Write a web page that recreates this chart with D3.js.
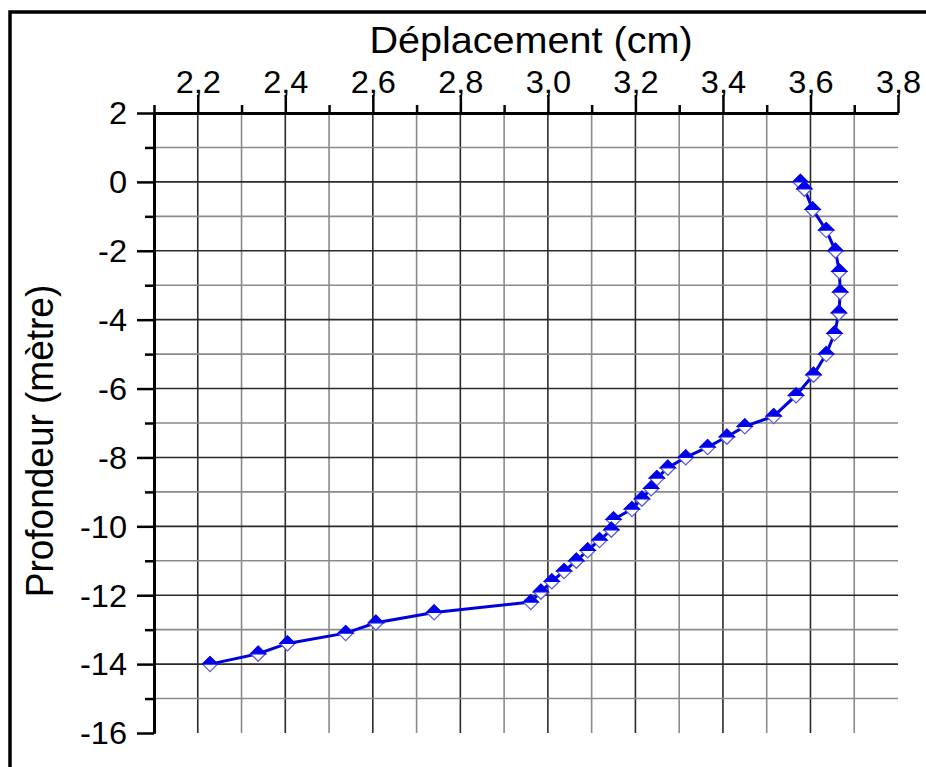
<!DOCTYPE html>
<html>
<head>
<meta charset="utf-8">
<script src="https://cdn.jsdelivr.net/npm/d3@7"></script>
<style>
  body { margin: 0; background: #fff; overflow: hidden; }
  svg { display: block; font-family: "Liberation Sans", Arial, sans-serif; }
</style>
</head>
<body>
<div id="app"></div>
<script>
// depth (m) and displacement (cm)
let depth = [0, -0.2, -0.8, -1.4, -2.0, -2.6, -3.2, -3.8, -4.4, -5.0, -5.6, -6.2, -6.8,
             -7.1, -7.4, -7.7, -8.0, -8.3, -8.6, -8.9, -9.2, -9.5, -9.8, -10.1, -10.4,
             -10.7, -11.0, -11.3, -11.6, -11.9, -12.2, -12.5, -12.8, -13.1, -13.4, -13.7, -14.0];
let displacement = [3.577, 3.586, 3.605, 3.636, 3.657, 3.666, 3.668, 3.665, 3.655, 3.636, 3.607, 3.567, 3.516,
                    3.450, 3.409, 3.365, 3.315, 3.274, 3.249, 3.236, 3.215, 3.192, 3.150, 3.145, 3.118,
                    3.091, 3.065, 3.037, 3.009, 2.984, 2.961, 2.740, 2.607, 2.538, 2.405, 2.338, 2.228];

let xMajor = [2.2, 2.4, 2.6, 2.8, 3.0, 3.2, 3.4, 3.6, 3.8];
let xMinor = [2.1, 2.3, 2.5, 2.7, 2.9, 3.1, 3.3, 3.5, 3.7];
let yMajor = [2, 0, -2, -4, -6, -8, -10, -12, -14, -16];
let yMinor = [1, -1, -3, -5, -7, -9, -11, -13, -15];

let xTitle = 'Déplacement (cm)';
let yTitle = 'Profondeur (mètre)';

let width = 926;
let height = 767;
let stretch = 1.05;   // the text in the picture is a bit wide

let x = d3.scaleLinear().domain([2.1, 3.8]).range([154, 898]);
let y = d3.scaleLinear().domain([2, -16]).range([113, 733]);

let fr = d3.formatLocale({decimal: ',', thousands: ' ', grouping: [3], currency: ['', ''], minus: '-'});

let svg = d3.select('#app').append('svg')
    .attr('width', width)
    .attr('height', height);

// outer frame: only the top and left sides are inside the picture
svg.append('path')
    .attr('d', 'M10,' + height + 'V12H' + width)
    .attr('fill', 'none')
    .attr('stroke', '#000')
    .attr('stroke-width', 3.5);

// grid
let grid = svg.append('g');
let vLines = xMajor.filter(d => d < 3.8).map(d => ({v: d, major: true}))
  .concat(xMinor.filter(d => d > 2.1).map(d => ({v: d, major: false})));
grid.selectAll('line.v')
    .data(vLines)
    .enter().append('line')
      .attr('x1', d => x(d.v)).attr('x2', d => x(d.v))
      .attr('y1', y(2)).attr('y2', y(-16))
      .attr('stroke', d => d.major ? '#2a2a2a' : '#8a8a8a')
      .attr('stroke-width', 1.6);

let hLines = yMajor.filter(d => d < 2 && d > -16).map(d => ({v: d, major: true}))
  .concat(yMinor.map(d => ({v: d, major: false})));
grid.selectAll('line.h')
    .data(hLines)
    .enter().append('line')
      .attr('x1', x(2.1)).attr('x2', x(3.8))
      .attr('y1', d => y(d.v)).attr('y2', d => y(d.v))
      .attr('stroke', d => d.major ? '#2a2a2a' : '#8a8a8a')
      .attr('stroke-width', 1.6);

// top axis
let gxMinor = svg.append('g')
    .attr('transform', 'translate(0,' + y(2) + ')')
    .call(d3.axisTop(x).tickValues(xMinor).tickSize(8).tickSizeOuter(0).tickFormat(''));
let gxMajor = svg.append('g')
    .attr('transform', 'translate(0,' + y(2) + ')')
    .call(d3.axisTop(x).tickValues(xMajor).tickSize(18).tickSizeOuter(0).tickPadding(2)
      .tickFormat(fr.format('.1f')));

// left axis
let gyMinor = svg.append('g')
    .attr('transform', 'translate(' + x(2.1) + ',0)')
    .call(d3.axisLeft(y).tickValues(yMinor).tickSize(9).tickSizeOuter(0).tickFormat(''));
let gyMajor = svg.append('g')
    .attr('transform', 'translate(' + x(2.1) + ',0)')
    .call(d3.axisLeft(y).tickValues(yMajor).tickSize(17).tickSizeOuter(0).tickPadding(10)
      .tickFormat(fr.format('d')));

[gxMinor, gxMajor, gyMinor, gyMajor].forEach(g => {
  g.select('.domain').attr('stroke', '#000').attr('stroke-width', 3);
  g.selectAll('.tick line').attr('stroke', '#000').attr('stroke-width', 2.5);
});

gxMajor.selectAll('.tick text')
    .attr('font-family', '"Liberation Sans", Arial, sans-serif')
    .attr('font-size', 31)
    .attr('fill', '#000')
    .attr('transform', 'scale(' + stretch + ',1)');

gyMajor.selectAll('.tick text')
    .attr('font-family', '"Liberation Sans", Arial, sans-serif')
    .attr('font-size', 31)
    .attr('fill', '#000')
    .attr('x', -27 / stretch)
    .attr('dy', '0.35em')
    .attr('transform', 'scale(' + stretch + ',1)');

// titles
svg.append('text')
    .attr('transform', 'translate(531,53) scale(1.07,1)')
    .attr('text-anchor', 'middle')
    .attr('font-size', 37)
    .text(xTitle);

svg.append('text')
    .attr('transform', 'translate(53,441) scale(1.07,1) rotate(-90)')
    .attr('text-anchor', 'middle')
    .attr('font-size', 37)
    .text(yTitle);

// curve
let line = d3.line()
    .x((d, i) => x(displacement[i]))
    .y(d => y(d));

svg.append('path')
    .datum(depth)
    .attr('d', line)
    .attr('fill', 'none')
    .attr('stroke', '#0000dd')
    .attr('stroke-width', 3);

// half filled diamonds
let r = 7.5;
let marks = svg.selectAll('g.mark')
    .data(depth)
    .enter().append('g')
      .attr('transform', (d, i) => 'translate(' + x(displacement[i]) + ',' + y(d) + ')');

marks.append('path')
    .attr('d', `M0,${-r}L${r},0L0,${r}L${-r},0Z`)
    .attr('fill', '#fff')
    .attr('stroke', '#5b5bd6')
    .attr('stroke-width', 1.3);

marks.append('path')
    .attr('d', `M0,${-r}L${r},0L${-r},0Z`)
    .attr('fill', '#0000ee')
    .attr('stroke', '#0000ee')
    .attr('stroke-width', 1.3);
</script>
</body>
</html>
